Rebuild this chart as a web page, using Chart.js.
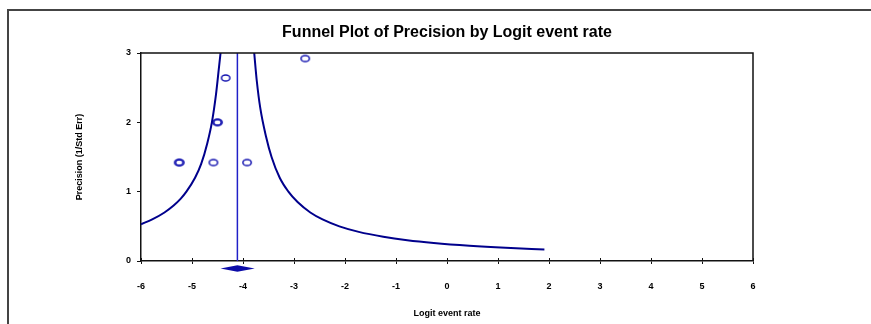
<!DOCTYPE html>
<html><head><meta charset="utf-8">
<script src="https://cdn.jsdelivr.net/npm/chart.js@4/dist/chart.umd.min.js"></script>
<style>html,body{margin:0;padding:0;background:#fff}#wrap{width:871px;height:324px;position:relative}</style>
</head><body><div id="wrap"><canvas id="c" width="871" height="324"></canvas></div>
<script>
// ---- data ----
const studyLogit     = [-5.26, -5.24, -4.58, -3.92, -4.51, -4.49, -4.34, -2.78];
const studyPrecision = [ 1.42,  1.42,  1.42,  1.42,  2.00,  2.00,  2.64,  2.92];

const funnelLeftLogit     = [-6.00, -5.78, -5.54, -5.36, -5.22, -5.11, -4.94, -4.82, -4.70, -4.61, -4.53, -4.47, -4.44];
const funnelLeftPrecision = [ 0.53,  0.60,  0.70,  0.80,  0.90,  1.00,  1.20,  1.40,  1.70,  2.00,  2.40,  2.80,  3.00];

const funnelRightLogit     = [-3.78, -3.73, -3.66, -3.55, -3.44, -3.28, -3.11, -2.93, -2.68, -2.44, -2.11, -1.73, -1.25, -0.78, -0.26, 0.44, 1.15, 1.91];
const funnelRightPrecision = [ 3.00,  2.60,  2.20,  1.80,  1.50,  1.20,  1.00,  0.85,  0.70,  0.60,  0.50,  0.42,  0.35,  0.30,  0.26, 0.22, 0.19, 0.166];

const summaryEstimate = -4.11;
const summaryLower    = -4.44;
const summaryUpper    = -3.77;

const xTickValues = [-6, -5, -4, -3, -2, -1, 0, 1, 2, 3, 4, 5, 6];
const yTickValues = [0, 1, 2, 3];

const chartTitle = 'Funnel Plot of Precision by Logit event rate';
const xTitle = 'Logit event rate';
const yTitle = 'Precision (1/Std Err)';

// ---- styles ----
const FONT = 'Liberation Sans, Arial, Helvetica, sans-serif';
const curveColor = '#00008c';
const pointColor = '#1414b0';
const lineColor  = '#2020c8';

function ellipseMarker() {
  const cv = document.createElement('canvas');
  cv.width = 12; cv.height = 10;
  const g = cv.getContext('2d');
  g.strokeStyle = pointColor;
  g.lineWidth = 1.5;
  g.beginPath();
  g.ellipse(6, 5, 4.2, 3.1, 0, 0, Math.PI * 2);
  g.stroke();
  return cv;
}

const toXY = (xs, ys) => xs.map((x, i) => ({x: x, y: ys[i]}));

const framePlugin = {
  id: 'frame',
  beforeDraw(chart) {
    const ctx = chart.ctx;
    ctx.save();
    ctx.fillStyle = '#fff';
    ctx.fillRect(0, 0, chart.width, chart.height);
    ctx.strokeStyle = '#444';
    ctx.lineWidth = 2;
    ctx.beginPath();
    ctx.moveTo(871, 10);
    ctx.lineTo(8, 10);
    ctx.lineTo(8, 324);
    ctx.stroke();
    ctx.restore();
  },
  afterDraw(chart) {
    const ctx = chart.ctx, a = chart.chartArea;
    const xs = chart.scales.x, ys = chart.scales.y;
    ctx.save();
    ctx.strokeStyle = '#111';
    ctx.lineWidth = 1.5;
    ctx.beginPath();
    ctx.moveTo(a.left, a.top);
    ctx.lineTo(a.right, a.top);
    ctx.lineTo(a.right, a.bottom);
    ctx.stroke();
    // inward half of the crossing x ticks
    ctx.lineWidth = 1;
    ctx.beginPath();
    xTickValues.forEach(v => {
      const px = Math.round(xs.getPixelForValue(v)) + 0.5;
      ctx.moveTo(px, a.bottom);
      ctx.lineTo(px, a.bottom - 3);
    });
    ctx.stroke();
    // summary diamond
    const cx = xs.getPixelForValue(summaryEstimate);
    const lx = xs.getPixelForValue(summaryLower);
    const rx = xs.getPixelForValue(summaryUpper);
    const cy = ys.getPixelForValue(0) + 7.5;
    ctx.fillStyle = '#0c0ca8';
    ctx.beginPath();
    ctx.moveTo(lx, cy);
    ctx.lineTo(cx, cy - 3.2);
    ctx.lineTo(rx, cy);
    ctx.lineTo(cx, cy + 3.2);
    ctx.closePath();
    ctx.fill();
    ctx.restore();
  }
};

new Chart(document.getElementById('c'), {
  type: 'scatter',
  data: {
    datasets: [
      {
        label: 'Funnel left',
        data: toXY(funnelLeftLogit, funnelLeftPrecision),
        showLine: true, borderColor: curveColor, borderWidth: 2,
        pointRadius: 0, cubicInterpolationMode: 'monotone', fill: false
      },
      {
        label: 'Funnel right',
        data: toXY(funnelRightLogit, funnelRightPrecision),
        showLine: true, borderColor: curveColor, borderWidth: 2,
        pointRadius: 0, cubicInterpolationMode: 'monotone', fill: false
      },
      {
        label: 'Combined estimate',
        data: [{x: summaryEstimate, y: 0}, {x: summaryEstimate, y: 3}],
        showLine: true, borderColor: lineColor, borderWidth: 1.5,
        pointRadius: 0, fill: false
      },
      {
        label: 'Studies',
        data: toXY(studyLogit, studyPrecision),
        pointStyle: ellipseMarker(),
        showLine: false
      }
    ]
  },
  options: {
    responsive: false,
    animation: false,
    events: [],
    devicePixelRatio: 1,
    layout: { padding: { left: 0, right: 118, top: 0, bottom: 0 } },
    plugins: {
      legend: { display: false },
      tooltip: { enabled: false },
      title: {
        display: true, text: chartTitle, fullSize: false,
        color: '#000',
        font: { family: FONT, size: 16, weight: 'bold' },
        padding: { top: 23.4, bottom: 10.4 }
      }
    },
    scales: {
      x: {
        type: 'linear', position: 'bottom',
        min: -6, max: 6,
        afterBuildTicks: s => { s.ticks = xTickValues.map(v => ({value: v})); },
        afterFit: s => { s.height = 63; },
        ticks: {
          color: '#000', padding: 17.6, maxRotation: 0, autoSkip: false,
          font: { family: FONT, size: 9, weight: 'bold' }
        },
        grid: { drawOnChartArea: false, drawTicks: true, tickLength: 3, color: '#111', tickWidth: 1 },
        border: { display: true, color: '#111', width: 1.5 },
        title: {
          display: true, text: xTitle, color: '#000',
          font: { family: FONT, size: 9, weight: 'bold' },
          padding: { top: 0, bottom: 5 }
        }
      },
      y: {
        type: 'linear', position: 'left',
        min: 0, max: 3,
        afterBuildTicks: s => { s.ticks = yTickValues.map(v => ({value: v})); },
        afterFit: s => { s.width = 141; },
        ticks: {
          color: '#000', padding: 6,
          font: { family: FONT, size: 9, weight: 'bold' }
        },
        grid: { drawOnChartArea: false, drawTicks: true, tickLength: 4, color: '#111', tickWidth: 1 },
        border: { display: true, color: '#111', width: 1.5 },
        title: {
          display: true, text: yTitle, color: '#000',
          font: { family: FONT, size: 9, weight: 'bold' },
          padding: { top: 74.6, bottom: 0 }
        }
      }
    }
  },
  plugins: [framePlugin]
});
</script>
</body></html>
